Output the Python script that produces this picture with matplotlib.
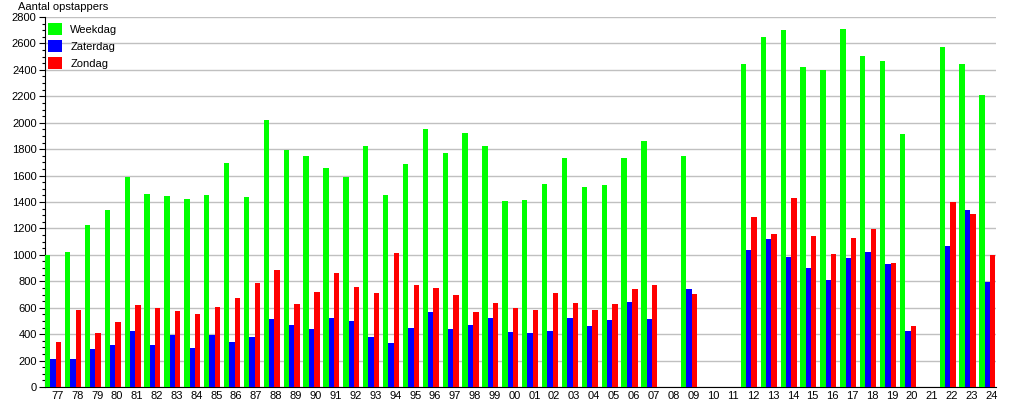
import numpy as np
import matplotlib
matplotlib.use("Agg")
import matplotlib.pyplot as plt
from matplotlib.patches import Patch
from matplotlib.ticker import MultipleLocator

plt.rcParams['font.family'] = ['Liberation Sans', 'DejaVu Sans']

nan = np.nan
years = ['77', '78', '79', '80', '81', '82', '83', '84', '85', '86', '87', '88',
         '89', '90', '91', '92', '93', '94', '95', '96', '97', '98', '99', '00',
         '01', '02', '03', '04', '05', '06', '07', '08', '09', '10', '11', '12',
         '13', '14', '15', '16', '17', '18', '19', '20', '21', '22', '23', '24']

weekdag = [996, 1024, 1228, 1342, 1591, 1463, 1448, 1425, 1455, 1697, 1440, 2023,
           1793, 1750, 1659, 1591, 1826, 1455, 1690, 1955, 1773, 1924, 1826, 1410,
           1417, 1538, 1735, 1516, 1531, 1735, 1864, nan, 1750, nan, nan, 2446,
           2651, 2704, 2424, 2401, 2711, 2507, 2469, 1917, nan, 2575, 2446, 2212]

zaterdag = [214, 214, 290, 320, 426, 320, 396, 298, 396, 343, 381, 517,
            472, 441, 525, 502, 381, 335, 449, 570, 441, 472, 525, 419,
            411, 426, 525, 464, 509, 646, 517, nan, 744, nan, nan, 1039,
            1122, 986, 903, 812, 979, 1024, 933, 426, nan, 1069, 1342, 797]

zondag = [338, 585, 406, 494, 623, 600, 578, 555, 608, 676, 789, 888,
          630, 721, 865, 759, 714, 1016, 774, 752, 699, 570, 638, 600,
          585, 714, 638, 585, 630, 744, 774, nan, 706, nan, nan, 1289,
          1160, 1432, 1145, 1009, 1130, 1198, 941, 464, nan, 1402, 1311, 1001]

series_names = ['Weekdag', 'Zaterdag', 'Zondag']
colors = ['#00ff00', '#0000ff', '#ff0000']

fig = plt.figure(figsize=(10.15, 4.0), dpi=100)
ax = fig.add_axes([45 / 1015, 1 - 387 / 400, 951 / 1015, 370 / 400])

x = np.arange(len(years))
w = 0.27
for k, (vals, c) in enumerate(zip([weekdag, zaterdag, zondag], colors)):
    ax.bar(x + k * w, np.array(vals, dtype=float), width=w, align='edge',
           color=c, linewidth=0, zorder=3)

ax.set_xlim(0, len(years) - 1 + 3 * w + 0.03)
ax.set_ylim(0, 2800)
ax.yaxis.set_major_locator(MultipleLocator(200))
ax.yaxis.set_minor_locator(MultipleLocator(50))
ax.set_xticks(x + 0.62)
ax.set_xticklabels(years)
ax.tick_params(axis='x', length=0, labelsize=8, pad=3)
ax.tick_params(axis='y', which='major', length=4, width=0.8, labelsize=8, pad=2)
ax.tick_params(axis='y', which='minor', length=2.5, width=0.8)
ax.grid(axis='y', which='major', color='#c0c0c0', linewidth=1.0, zorder=0)
ax.set_axisbelow(True)
for s in ['top', 'right']:
    ax.spines[s].set_visible(False)
ax.spines['left'].set_color('black')
ax.spines['bottom'].set_color('black')

fig.text(18 / 1015, 1 - 7 / 400, 'Aantal opstappers', ha='left', va='center',
         fontsize=8)

handles = [Patch(facecolor=c, edgecolor='none') for c in colors]
leg = ax.legend(handles, series_names, loc='upper left', bbox_to_anchor=(-0.0015, 0.996),
                frameon=False, fontsize=8, handlelength=1.3, handleheight=1.3,
                handletextpad=0.7, labelspacing=0.45, borderpad=0.0,
                borderaxespad=0.4)

fig.savefig('out.png', dpi=100)
